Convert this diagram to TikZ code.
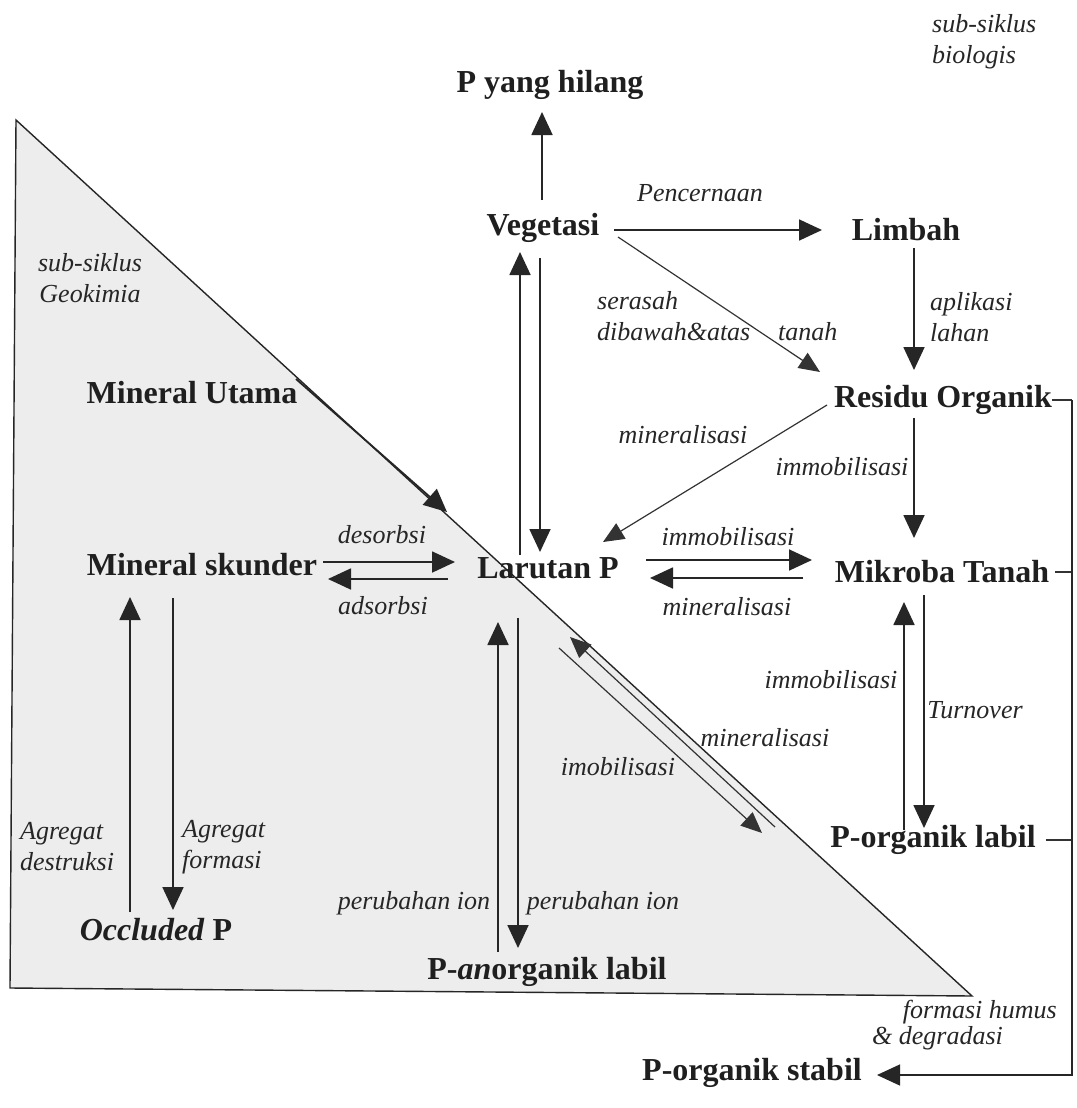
\documentclass[tikz,border=0pt]{standalone}
\usepackage{fontspec}
\setmainfont{Liberation Serif}
\usetikzlibrary{arrows.meta}
\begin{document}
\begin{tikzpicture}[x=1pt,y=-1pt,
  lbl/.style={font=\fontsize{32}{36}\selectfont\bfseries, inner sep=0pt, text=black!88},
  itl/.style={font=\fontsize{26}{31}\selectfont\itshape, inner sep=0pt, text=black!85, align=left},
  arr/.style={-{Triangle[length=23pt,width=21pt]}, line width=1.8pt, draw=black!85},
  tarr/.style={-{Triangle[length=21pt,width=18pt]}, line width=1.2pt, draw=black!80},
  ln/.style={line width=1.3pt, draw=black!80}]
\useasboundingbox (0,0) rectangle (1076,1108);
\fill[white] (0,0) rectangle (1076,1108);
% geochemical triangle
\filldraw[fill=black!7, draw=black!85, line width=1.4pt] (16,120) -- (10,988) -- (972,996) -- cycle;

% main nodes
\node[lbl] (hilang) at (550,85) {P yang hilang};
\node[lbl] (veg) at (543,228) {Vegetasi};
\node[lbl] (limbah) at (906,230) {Limbah};
\node[lbl] (residu) at (943,400) {Residu Organik};
\node[lbl] (mutama) at (192,393) {Mineral Utama};
\node[lbl] (mskunder) at (202,565) {Mineral skunder};
\node[lbl] (larutan) at (548,568) {Larutan P};
\node[lbl] (mikroba) at (942,572) {Mikroba Tanah};
\node[lbl] (polabil) at (933,840) {P-organik labil};
\node[lbl] (occluded) at (156,930) {\textit{Occluded} P};
\node[lbl] (panorg) at (547,972) {P-\textit{an}organik labil};
\node[lbl] (postabil) at (752,1073) {P-organik stabil};

% italic labels
\node[itl, anchor=west] (tbio) at (932,42) {sub-siklus\\biologis};
\node[itl, align=center] (tgeo) at (90,278) {sub-siklus\\Geokimia};
\node[itl] (tpenc) at (700,193) {Pencernaan};
\node[itl, anchor=west] (tseras) at (597,316) {serasah\\dibawah\&atas};
\node[itl, anchor=west] (ttanah) at (778,332) {tanah};
\node[itl, anchor=west] (taplik) at (930,317) {aplikasi\\lahan};
\node[itl] (tmin1) at (683,435) {mineralisasi};
\node[itl] (timm1) at (842,467) {immobilisasi};
\node[itl] (tdes) at (382,535) {desorbsi};
\node[itl] (tads) at (383,606) {adsorbsi};
\node[itl] (timm2) at (728,537) {immobilisasi};
\node[itl] (tmin2) at (727,607) {mineralisasi};
\node[itl] (timm3) at (831,680) {immobilisasi};
\node[itl] (tturn) at (975,710) {Turnover};
\node[itl] (tmin3) at (765,738) {mineralisasi};
\node[itl] (timo) at (618,767) {imobilisasi};
\node[itl, anchor=west] (tagd) at (20,847) {Agregat\\destruksi};
\node[itl, anchor=west] (tagf) at (182,847) {Agregat\\formasi};
\node[itl] (tper1) at (414,903) {perubahan ion};
\node[itl] (tper2) at (603,903) {perubahan ion};
\node[itl, anchor=east] (tform) at (1057,1012) {formasi humus};
\node[itl, anchor=west] (tdeg) at (872,1038) {\& degradasi};

% connector end points
\coordinate (vegN) at (542,200);   \coordinate (hilS) at (542,112);
\coordinate (vegE) at (614,230);   \coordinate (limW) at (822,230);
\coordinate (limS) at (914,248);   \coordinate (resN) at (914,370);
\coordinate (vegSE) at (618,237);  \coordinate (resNW) at (820,372);
\coordinate (resW) at (827,405);   \coordinate (larNE) at (603,542);
\coordinate (resS) at (914,418);   \coordinate (mikN) at (914,538);
\coordinate (larN1) at (520,555);  \coordinate (vegS1) at (520,252);
\coordinate (vegS2) at (540,258);  \coordinate (larN2) at (540,552);
\coordinate (larE1) at (646,560);  \coordinate (mikW1) at (812,560);
\coordinate (mikW2) at (803,578);  \coordinate (larE2) at (650,578);
\coordinate (mikS1) at (924,595);  \coordinate (polN1) at (924,828);
\coordinate (polN2) at (904,830);  \coordinate (mikS2) at (904,602);
\coordinate (polNW1) at (775,827); \coordinate (larSE1) at (570,637);
\coordinate (larSE2) at (559,648); \coordinate (polNW2) at (762,833);
\coordinate (mskE1) at (323,562);  \coordinate (larW1) at (455,562);
\coordinate (larW2) at (448,579);  \coordinate (mskE2) at (328,579);
\coordinate (mutE) at (296,379);   \coordinate (larNW) at (447,512);
\coordinate (occN1) at (130,912);  \coordinate (mskS1) at (130,597);
\coordinate (mskS2) at (173,598);  \coordinate (occN2) at (173,910);
\coordinate (panN1) at (498,952);  \coordinate (larS1) at (498,622);
\coordinate (larS2) at (518,618);  \coordinate (panN2) at (518,948);
\coordinate (rtop) at (1072,400);  \coordinate (rbot) at (1072,1075);
\coordinate (posE) at (877,1075);

% connectors
\draw[arr] (vegN) -- (hilS);
\draw[arr] (vegE) -- (limW);
\draw[arr] (limS) -- (resN);
\draw[tarr] (vegSE) -- (resNW);
\draw[tarr] (resW) -- (larNE);
\draw[arr] (resS) -- (mikN);
\draw[arr] (larN1) -- (vegS1);
\draw[arr] (vegS2) -- (larN2);
\draw[arr] (larE1) -- (mikW1);
\draw[arr] (mikW2) -- (larE2);
\draw[arr] (mikS1) -- (polN1);
\draw[arr] (polN2) -- (mikS2);
\draw[tarr] (polNW1) -- (larSE1);
\draw[tarr] (larSE2) -- (polNW2);
\draw[arr] (mskE1) -- (larW1);
\draw[arr] (larW2) -- (mskE2);
\draw[arr] (mutE) -- (larNW);
\draw[arr] (occN1) -- (mskS1);
\draw[arr] (mskS2) -- (occN2);
\draw[arr] (panN1) -- (larS1);
\draw[arr] (larS2) -- (panN2);
\draw[ln] (residu.east) -- (rtop);
\draw[ln] ([xshift=6pt]mikroba.east) -- (mikroba.east -| rtop);
\draw[ln] ([xshift=10pt]polabil.east) -- (polabil.east -| rtop);
\draw[arr, line width=1.3pt] (rtop) -- (rbot) -- (posE);
\end{tikzpicture}
\end{document}
